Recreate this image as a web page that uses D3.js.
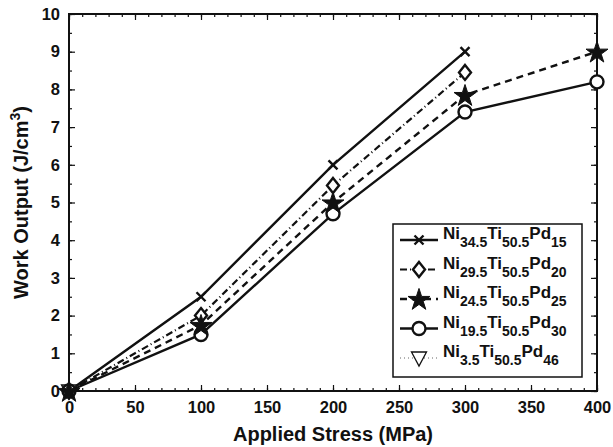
<!DOCTYPE html>
<html>
<head>
<meta charset="utf-8">
<script src="https://cdn.jsdelivr.net/npm/d3@7"></script>
<style>
  body { margin: 0; background: #fff; }
  text { font-family: "Liberation Sans", Arial, sans-serif; font-weight: bold; fill: #111; }
</style>
</head>
<body>
<svg id="chart" width="613" height="447"></svg>
<script>
var stress = [0, 100, 200, 300, 400];
var pd15 = [0, 2.5, 6.0, 9.0];
var pd20 = [0, 2.0, 5.45, 8.45];
var pd25 = [0, 1.75, 5.0, 7.85, 9.0];
var pd30 = [0, 1.5, 4.7, 7.4, 8.2];
var pd46 = [0];
var xTicks = [0, 50, 100, 150, 200, 250, 300, 350, 400];
var yTicks = [0, 1, 2, 3, 4, 5, 6, 7, 8, 9, 10];

var series = [
  { ni: "34.5", pd: "15", values: pd15, marker: "x", dash: null, width: 2.4 },
  { ni: "29.5", pd: "20", values: pd20, marker: "diamond", dash: "7,3,1,3", width: 2.2 },
  { ni: "24.5", pd: "25", values: pd25, marker: "star", dash: "7,5", width: 2.4 },
  { ni: "19.5", pd: "30", values: pd30, marker: "circle", dash: null, width: 2.4 },
  { ni: "3.5", pd: "46", values: pd46, marker: "triangle", dash: "1,3", width: 1 }
];

var svg = d3.select("#chart");
var plotL = 69, plotR = 597, plotT = 14, plotB = 391;

var x = d3.scaleLinear().domain([0, 400]).range([plotL, plotR]);
var y = d3.scaleLinear().domain([0, 10]).range([plotB, plotT]);

var g = svg.append("g");

// minor ticks, inside on all sides
var xMinor = d3.range(0, 401, 10);
var yMinor = d3.range(0, 10.01, 0.5);
g.append("g").attr("transform", "translate(0," + plotB + ")")
  .call(d3.axisBottom(x).tickValues(xMinor).tickSizeInner(-3).tickSizeOuter(0).tickFormat(""));
g.append("g").attr("transform", "translate(0," + plotT + ")")
  .call(d3.axisTop(x).tickValues(xMinor).tickSizeInner(-3).tickSizeOuter(0).tickFormat(""));
g.append("g").attr("transform", "translate(" + plotL + ",0)")
  .call(d3.axisLeft(y).tickValues(yMinor).tickSizeInner(-3).tickSizeOuter(0).tickFormat(""));
g.append("g").attr("transform", "translate(" + plotR + ",0)")
  .call(d3.axisRight(y).tickValues(yMinor).tickSizeInner(-3).tickSizeOuter(0).tickFormat(""));

// major ticks with labels
var xAxis = g.append("g").attr("transform", "translate(0," + plotB + ")")
  .call(d3.axisBottom(x).tickValues(xTicks).tickSizeInner(-6).tickSizeOuter(0));
var yAxis = g.append("g").attr("transform", "translate(" + plotL + ",0)")
  .call(d3.axisLeft(y).tickValues(yTicks).tickSizeInner(-6).tickSizeOuter(0));
g.append("g").attr("transform", "translate(0," + plotT + ")")
  .call(d3.axisTop(x).tickValues(xTicks).tickSizeInner(-6).tickSizeOuter(0).tickFormat(""));
g.append("g").attr("transform", "translate(" + plotR + ",0)")
  .call(d3.axisRight(y).tickValues(yTicks).tickSizeInner(-6).tickSizeOuter(0).tickFormat(""));

g.selectAll(".domain").remove();
g.selectAll(".tick line").attr("stroke", "#111").attr("stroke-width", 1.2);
g.selectAll(".tick text")
  .style("font-size", "16.5px").style("font-weight", "bold")
  .style("font-family", "Liberation Sans, Arial, sans-serif").attr("fill", "#111");
xAxis.selectAll("text").attr("y", 10);
yAxis.selectAll("text").attr("x", -9);

g.append("rect")
  .attr("x", plotL).attr("y", plotT)
  .attr("width", plotR - plotL).attr("height", plotB - plotT)
  .attr("fill", "none").attr("stroke", "#111").attr("stroke-width", 2);

// markers
function markerPath(type, cx, cy) {
  var p = d3.path();
  if (type == "x") {
    p.moveTo(cx - 4.5, cy - 4.5); p.lineTo(cx + 4.5, cy + 4.5);
    p.moveTo(cx - 4.5, cy + 4.5); p.lineTo(cx + 4.5, cy - 4.5);
  } else if (type == "diamond") {
    p.moveTo(cx, cy - 7.5); p.lineTo(cx + 6, cy); p.lineTo(cx, cy + 7.5); p.lineTo(cx - 6, cy); p.closePath();
  } else if (type == "circle") {
    p.moveTo(cx + 6.5, cy); p.arc(cx, cy, 6.5, 0, 2 * Math.PI);
  } else if (type == "triangle") {
    p.moveTo(cx - 7.5, cy - 6); p.lineTo(cx + 7.5, cy - 6); p.lineTo(cx, cy + 8); p.closePath();
  }
  return p.toString();
}
var star = d3.symbol().type(d3.symbolStar).size(150);

function drawMarker(sel, type, cx, cy) {
  if (type == "star") {
    sel.append("path").attr("d", star())
      .attr("transform", "translate(" + cx + "," + (cy + 1) + ")")
      .attr("fill", "#111").attr("stroke", "#111").attr("stroke-width", 1);
  } else {
    sel.append("path").attr("d", markerPath(type, cx, cy))
      .attr("fill", type == "x" ? "none" : "#fff")
      .attr("stroke", "#111").attr("stroke-width", type == "triangle" ? 1.3 : 2.4);
  }
}

var line = d3.line()
  .x(function (d, i) { return x(stress[i]); })
  .y(function (d) { return y(d); });

series.forEach(function (s) {
  g.append("path").datum(s.values)
    .attr("d", line)
    .attr("fill", "none")
    .attr("stroke", s.dash == "1,3" ? "#666" : "#111")
    .attr("stroke-width", s.width)
    .attr("stroke-dasharray", s.dash);
});
// stars last so the origin reads as a filled blob like the original
var order = [4, 0, 1, 3, 2];
order.forEach(function (k) {
  var s = series[k];
  s.values.forEach(function (d, i) {
    drawMarker(g, s.marker, x(stress[i]), y(d));
  });
});

// axis titles
svg.append("text")
  .attr("x", (plotL + plotR) / 2).attr("y", 441)
  .attr("text-anchor", "middle")
  .style("font-size", "20px")
  .text("Applied Stress (MPa)");

var yl = svg.append("text")
  .attr("transform", "translate(28," + ((plotT + plotB) / 2) + ") rotate(-90)")
  .attr("text-anchor", "middle")
  .style("font-size", "20px");
yl.append("tspan").text("Work Output (J/cm");
yl.append("tspan").attr("dy", -8).style("font-size", "14px").text("3");
yl.append("tspan").attr("dy", 8).text(")");

// legend
var lg = svg.append("g");
lg.append("rect")
  .attr("x", 393).attr("y", 224).attr("width", 189).attr("height", 153)
  .attr("fill", "#fff").attr("stroke", "#111").attr("stroke-width", 1.5);

series.forEach(function (s, i) {
  var cy = 240 + i * 29.5;
  lg.append("line")
    .attr("x1", 400).attr("x2", 438).attr("y1", cy).attr("y2", cy)
    .attr("stroke", s.dash == "1,3" ? "#666" : "#111")
    .attr("stroke-width", s.width)
    .attr("stroke-dasharray", s.dash);
  drawMarker(lg, s.marker, 419, cy);
  var t = lg.append("text").attr("x", 443).attr("y", cy - 1).style("font-size", "17px");
  t.append("tspan").text("Ni");
  t.append("tspan").attr("dy", 8).style("font-size", "14px").text(s.ni);
  t.append("tspan").attr("dy", -8).text("Ti");
  t.append("tspan").attr("dy", 8).style("font-size", "14px").text("50.5");
  t.append("tspan").attr("dy", -8).text("Pd");
  t.append("tspan").attr("dy", 8).style("font-size", "14px").text(s.pd);
});
</script>
</body>
</html>
